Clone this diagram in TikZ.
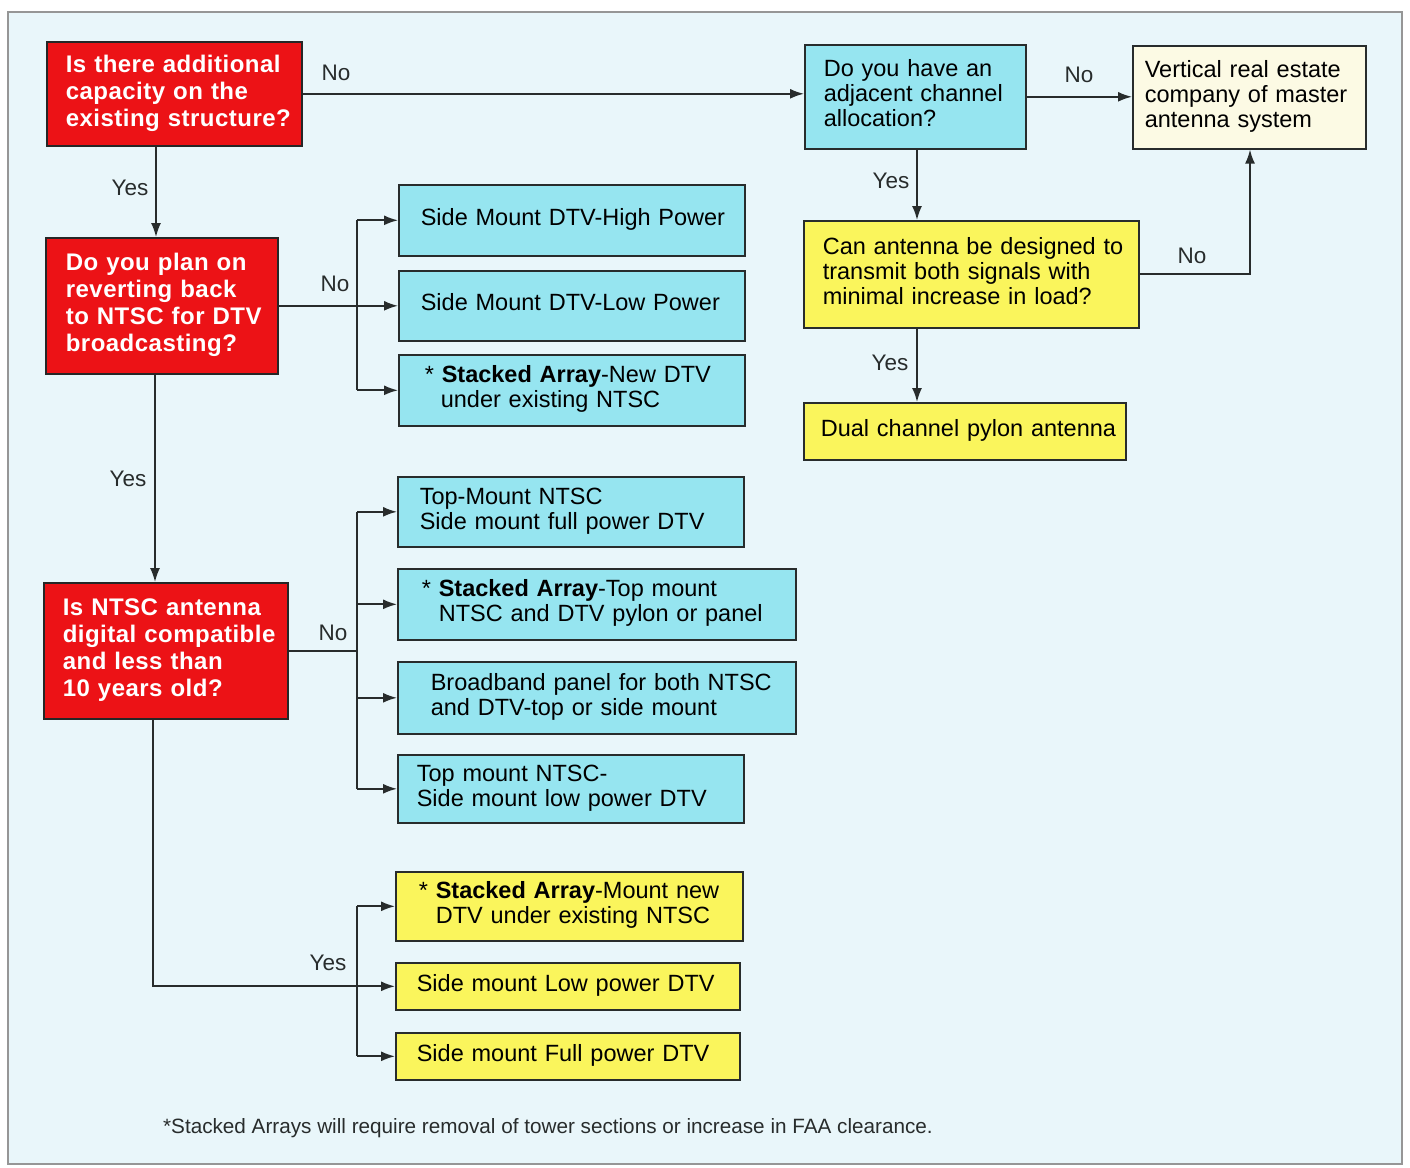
\documentclass[tikz,border=0pt]{standalone}
\usepackage{fontspec}
\setmainfont{Liberation Sans}
\newfontfamily\qfont[LetterSpace=2]{Liberation Sans Bold}
\usetikzlibrary{arrows.meta}
\definecolor{bg}{RGB}{233,246,250}
\definecolor{frame}{RGB}{150,150,150}
\definecolor{qred}{RGB}{236,18,22}
\definecolor{cy}{RGB}{150,229,240}
\definecolor{yl}{RGB}{250,245,92}
\definecolor{cr}{RGB}{252,250,228}
\definecolor{lnc}{RGB}{40,44,44}
\newcommand\mylines[1]{\begin{tabular}{@{}l@{}}#1\end{tabular}}
\begin{document}
\begin{tikzpicture}[x=1pt,y=-1pt,
  base/.style={anchor=north west, align=left, inner ysep=0pt, draw=lnc, line width=1.6pt},
  sz/.style n args={4}{minimum width=#1pt, minimum height=#2pt, inner xsep=#3pt, text width=#4pt},
  redq/.style={base, fill=qred, text=white, draw=black!85, font=\fontsize{24}{27}\selectfont\qfont},
  cybox/.style={base, fill=cy, font=\fontsize{23.5}{25}\selectfont},
  ylbox/.style={base, fill=yl, font=\fontsize{23.5}{25}\selectfont},
  crbox/.style={base, fill=cr, font=\fontsize{23.5}{25}\selectfont},
  conn/.style={draw=lnc, line width=1.7pt},
  ar/.style={conn, -{Latex[length=14pt,width=10pt]}},
  lbl/.style={font=\fontsize{22.5}{24}\selectfont, inner sep=0pt, text=lnc},
]
\useasboundingbox (0,0) rectangle (1410,1167);
\fill[white] (0,0) rectangle (1410,1167);
\draw[frame, fill=bg, line width=1.5pt] (8,12) rectangle (1402,1164);

% questions
\node[redq, sz={255}{104}{19}{217}] (q1) at (46,41) {\mylines{Is there additional\\capacity on the\\existing structure?}};
\node[redq, sz={232}{136}{20}{192}] (q2) at (45,237) {\mylines{Do you plan on\\reverting back\\to NTSC for DTV\\broadcasting?}};
\node[redq, sz={244}{136}{19}{206}] (q3) at (43,582) {\mylines{Is NTSC antenna\\digital compatible\\and less than\\10 years old?}};

\node[cybox, sz={221}{104}{19}{183}] (a) at (804,44) {\mylines{Do you have an\\adjacent channel\\allocation?}};
\node[crbox, sz={233}{103}{12}{209}] (v) at (1132,45) {\mylines{Vertical real estate\\company of master\\antenna system}};
\node[ylbox, sz={335}{107}{19}{297}] (c) at (803,220) {\mylines{Can antenna be designed to\\transmit both signals with\\minimal increase in load?}};
\node[ylbox, sz={322}{57}{17}{288}] (d) at (803,402) {\mylines{Dual channel pylon antenna}};

% group 1
\node[cybox, sz={346}{71}{22}{302}] (s1) at (398,184) {\mylines{Side Mount DTV-High Power}};
\node[cybox, sz={346}{70}{22}{302}] (s2) at (398,270) {\mylines{Side Mount DTV-Low Power}};
\node[cybox, sz={346}{71}{26}{294}] (s3) at (398,354) {\mylines{* \textbf{Stacked Array}-New DTV\\\hspace*{16pt}under existing NTSC}};

% group 2
\node[cybox, sz={346}{70}{22}{302}] (t1) at (397,476) {\mylines{Top-Mount NTSC\\Side mount full power DTV}};
\node[cybox, sz={398}{71}{24}{350}] (t2) at (397,568) {\mylines{* \textbf{Stacked Array}-Top mount\\\hspace*{17pt}NTSC and DTV pylon or panel}};
\node[cybox, sz={398}{72}{33}{332}] (t3) at (397,661) {\mylines{Broadband panel for both NTSC\\and DTV-top or side mount}};
\node[cybox, sz={346}{68}{19}{308}] (t4) at (397,754) {\mylines{Top mount NTSC-\\Side mount low power DTV}};

% group 3
\node[ylbox, sz={347}{69}{23}{301}] (y1) at (395,871) {\mylines{* \textbf{Stacked Array}-Mount new\\\hspace*{17pt}DTV under existing NTSC}};
\node[ylbox, sz={344}{47}{21}{302}] (y2) at (395,962) {\mylines{Side mount Low power DTV}};
\node[ylbox, sz={344}{47}{21}{302}] (y3) at (395,1032) {\mylines{Side mount Full power DTV}};

% branch coordinates
\coordinate (b) at (357,0);

% connectors
\draw[ar] (q1.east) -- (q1.east -| a.west);
\draw[ar] (q1.south -| 156,0) -- (q2.north -| 156,0);
\draw[conn] (q2.east) -- (q2.east -| b);
\draw[conn] (b |- s1.west) -- (b |- s3.west);
\draw[ar] (b |- s1.west) -- (s1.west);
\draw[ar] (b |- s2.west) -- (s2.west);
\draw[ar] (b |- s3.west) -- (s3.west);

\draw[ar] (q2.south -| 155,0) -- (q3.north -| 155,0);
\draw[conn] (q3.east) -- (q3.east -| b);
\draw[conn] (b |- t1.west) -- (b |- t4.west);
\draw[ar] (b |- t1.west) -- (t1.west);
\draw[ar] (b |- t2.west) -- (t2.west);
\draw[ar] (b |- t3.west) -- (t3.west);
\draw[ar] (b |- t4.west) -- (t4.west);

\draw[ar] (q3.south -| 153,0) |- (y2.west);
\draw[conn] (b |- y1.west) -- (b |- y3.west);
\draw[ar] (b |- y1.west) -- (y1.west);
\draw[ar] (b |- y3.west) -- (y3.west);

\draw[ar] (a.east) -- (a.east -| v.west);
\draw[ar] (a.south -| 917,0) -- (c.north -| 917,0);
\draw[ar] (c.east) -| (v.south -| 1250,0);
\draw[ar] (c.south -| 917,0) -- (d.north -| 917,0);

% labels
\node[lbl] (l1) at (336,73) {No};
\node[lbl] (l2) at (130,188) {Yes};
\node[lbl] (l3) at (335,284) {No};
\node[lbl] (l4) at (128,479) {Yes};
\node[lbl] (l5) at (333,633) {No};
\node[lbl] (l6) at (328,963) {Yes};
\node[lbl] (l7) at (1079,75) {No};
\node[lbl] (l8) at (891,181) {Yes};
\node[lbl] (l9) at (1192,256) {No};
\node[lbl] (l10) at (890,363) {Yes};

\node[lbl, font=\fontsize{20.7}{22}\selectfont] (fn) at (548,1128) {*Stacked Arrays will require removal of tower sections or increase in FAA clearance.};
\end{tikzpicture}
\end{document}
